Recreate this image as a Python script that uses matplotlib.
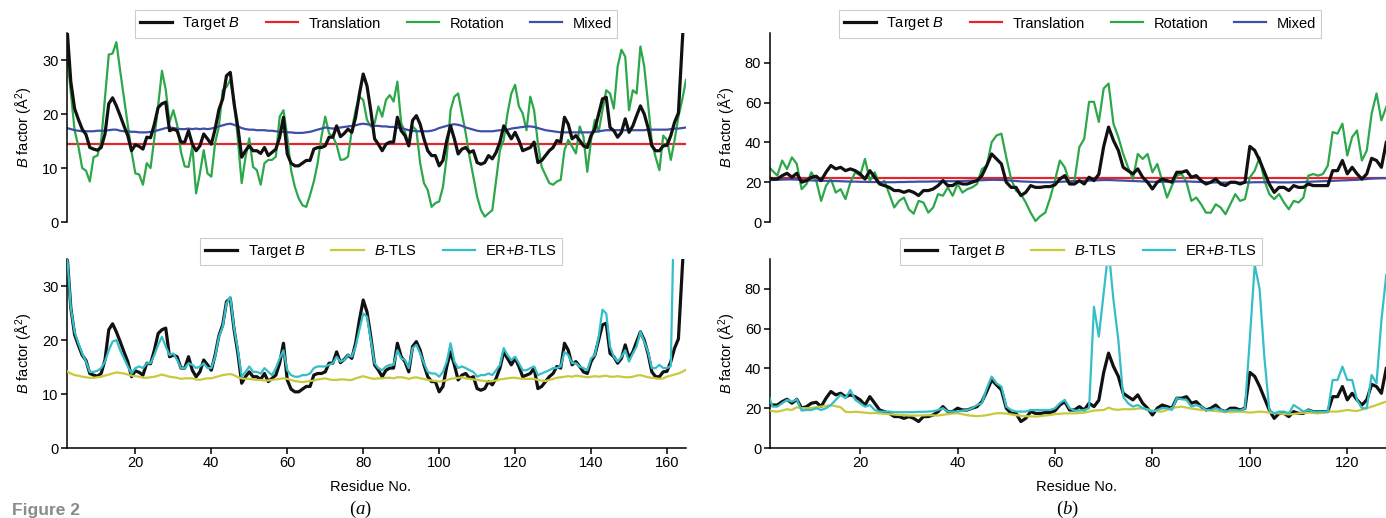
import matplotlib.pyplot as plt
from matplotlib.lines import Line2D
import numpy as np

plt.rcParams['font.family'] = 'Liberation Sans'
plt.rcParams['mathtext.fontset'] = 'custom'
plt.rcParams['mathtext.it'] = 'Liberation Sans:italic'
plt.rcParams['mathtext.rm'] = 'Liberation Sans'
plt.rcParams['font.size'] = 10

# ---- panel (a): residues 2..165 ----
res_a = np.arange(2, 166)
target_a = [36, 26, 21, 19, 17.2, 16.2, 13.8, 13.5, 13.3, 13.8, 16.3, 21.9, 23, 21.5, 19.7, 17.8, 16, 13.2, 14.3,
            14, 13.5, 15.7, 15.6, 18.1, 21.2, 21.9, 22.2, 16.9, 17.2, 16.9, 14.8, 14.8, 16.9, 14.4, 13.2, 14.1,
            16.3, 15.4, 14.4, 17.2, 20.8, 22.8, 27.1, 27.7, 21.9, 17.5, 12, 13.2, 14.1, 13.2, 13.2, 12.7, 13.8,
            12.3, 12.9, 13.5, 15.7, 19.4, 12.6, 10.9, 10.4, 10.4, 10.9, 11.4, 11.4, 13.5, 13.8, 13.8, 14.1, 15.7,
            15.7, 17.8, 15.8, 16.4, 17.2, 16.6, 19.4, 23.7, 27.4, 25.2, 20.6, 15.4, 14.4, 13.2, 14.4, 14.8, 14.8,
            19.4, 16.9, 16, 14.1, 18.8, 19.7, 18.1, 15.4, 13.2, 12.3, 12.3, 10.4, 11.4, 15.1, 17.8, 15.4, 12.6,
            13.5, 13.8, 12.9, 13.2, 11, 10.7, 11, 12.3, 11.7, 12.9, 14.8, 17.8, 16.6, 15.4, 16.6, 15.1, 13.2,
            13.5, 13.8, 14.8, 11, 11.4, 12.3, 13.2, 13.8, 15.1, 14.8, 19.4, 18.1, 15.4, 16, 15.1, 14.1, 13.8, 16,
            17.2, 20, 22.8, 23.1, 17.5, 16.9, 15.7, 16.6, 19.1, 16.6, 17.8, 19.7, 21.5, 20, 17.5, 14.1, 13.2,
            13.2, 14.1, 14.2, 16, 18.5, 20.2, 33, 45]
translation_a = 14.4
rotation_a = [31, 24, 17, 14, 10, 9.5, 7.5, 12, 12.3, 15, 23, 31, 31.2, 33.3, 28, 23, 18, 13, 9, 8.8, 6.9, 10.9,
              10, 15.5, 21.5, 28, 24.5, 18.5, 20.7, 18, 13, 10.3, 10.2, 14, 5.3, 9, 13.3, 9, 8.4, 14.6, 17.7,
              24.4, 25, 26.3, 22.6, 15.2, 7.2, 12, 15.5, 10.2, 9.6, 6.9, 10.9, 11.5, 11.5, 12.1, 19.5, 20.7,
              15.8, 9.6, 6.5, 4.4, 3.1, 2.8, 5, 7.5, 10.9, 15.8, 19.5, 16.4, 15.8, 14.3, 11.5, 11.6, 12.1, 17,
              20.7, 23.2, 22.6, 18.9, 17.7, 18.3, 21.4, 19.5, 22.6, 23.5, 22.3, 26, 18.3, 16.7, 14.3, 17.7, 17,
              10.9, 7.2, 5.9, 2.8, 3.5, 3.8, 6.5, 12.1, 20.7, 23.2, 23.8, 20.1, 16.4, 12.1, 8.4, 4.7, 2.2, 1,
              1.6, 2.2, 7.8, 13.3, 15.2, 20.1, 23.8, 25.4, 21.4, 20.1, 17, 23.2, 20.7, 14.6, 10.2, 8.7, 7.2,
              6.9, 7.5, 7.8, 13.3, 15.2, 14, 12.7, 17.7, 15.8, 9.3, 15.2, 18.9, 16.7, 20.7, 24.4, 23.8, 21,
              28.8, 31.9, 30.6, 20.7, 24.4, 23.8, 32.5, 28.8, 22, 14.8, 12, 9.6, 16, 15.2, 11.5, 15.2, 19.5,
              22.6, 26.3]
mixed_a = [17.4, 17.2, 17.0, 16.9, 16.8, 16.8, 16.8, 16.8, 16.9, 16.9, 16.9, 17.0, 17.1, 17.1, 16.9, 16.8, 16.8,
           16.7, 16.7, 16.6, 16.6, 16.6, 16.7, 16.8, 17.0, 17.2, 17.4, 17.5, 17.4, 17.3, 17.2, 17.2, 17.3, 17.2,
           17.3, 17.2, 17.3, 17.2, 17.3, 17.5, 17.7, 17.9, 18.1, 18.2, 18.0, 17.7, 17.4, 17.2, 17.1, 17.1, 17.0,
           17.0, 17.0, 16.9, 16.9, 16.8, 16.7, 16.7, 16.6, 16.6, 16.5, 16.5, 16.5, 16.6, 16.7, 16.9, 17.1, 17.3,
           17.5, 17.4, 17.3, 17.4, 17.5, 17.6, 17.7, 17.8, 17.9, 18.1, 18.2, 18.1, 18.0, 17.8, 17.8, 17.7, 17.7,
           17.6, 17.6, 17.5, 17.4, 17.2, 17.0, 16.9, 16.8, 16.8, 16.8, 16.8, 16.9, 17.1, 17.4, 17.6, 17.8, 18.0,
           18.1, 18.0, 17.8, 17.5, 17.3, 17.1, 16.9, 16.8, 16.8, 16.8, 16.8, 16.9, 17.0, 16.9, 17.1, 17.3, 17.4,
           17.5, 17.6, 17.7, 17.7, 17.6, 17.4, 17.2, 17.0, 16.9, 16.8, 16.7, 16.6, 16.6, 16.6, 16.6, 16.6, 16.6,
           16.6, 16.6, 16.6, 16.7, 16.8, 16.9, 17.0, 17.0, 17.0, 17.0, 17.0, 17.0, 17.0, 17.0, 17.0, 17.0, 17.0,
           17.1, 17.1, 17.1, 17.1, 17.1, 17.1, 17.2, 17.3, 17.3, 17.4, 17.5]
btls_a = [14.2, 13.8, 13.5, 13.4, 13.2, 13.1, 13.0, 13.0, 13.1, 13.2, 13.4, 13.6, 13.8, 14.0, 13.9, 13.8, 13.6,
          13.4, 13.3, 13.2, 13.0, 13.0, 13.1, 13.2, 13.4, 13.6, 13.4, 13.2, 13.1, 13.0, 12.8, 12.9, 12.9, 12.9,
          12.7, 12.6, 12.8, 12.9, 12.9, 13.1, 13.3, 13.5, 13.6, 13.7, 13.5, 13.1, 12.9, 12.8, 12.8, 12.7, 12.6,
          12.6, 12.5, 12.5, 12.6, 12.7, 12.8, 12.9, 12.8, 12.6, 12.4, 12.3, 12.2, 12.3, 12.4, 12.5, 12.7, 12.8,
          12.9, 12.7, 12.6, 12.6, 12.7, 12.7, 12.6, 12.6, 12.9, 13.1, 13.3, 13.1, 12.9, 12.8, 12.9, 12.9, 13.0,
          13.0, 12.9, 13.1, 13.1, 13.0, 12.8, 13.0, 13.1, 12.9, 12.8, 12.6, 12.5, 12.4, 12.3, 12.4, 12.6, 12.8,
          12.9, 13.0, 13.1, 12.9, 12.8, 12.7, 12.6, 12.5, 12.4, 12.3, 12.4, 12.5, 12.7, 12.8, 12.9, 13.0, 13.0,
          12.9, 12.8, 12.8, 12.8, 12.8, 12.6, 12.5, 12.4, 12.6, 12.8, 13.0, 13.1, 13.2, 13.3, 13.2, 13.4, 13.3,
          13.2, 13.1, 13.2, 13.3, 13.2, 13.3, 13.4, 13.2, 13.2, 13.3, 13.2, 13.1, 13.1, 13.2, 13.4, 13.5, 13.3,
          13.1, 13.0, 12.9, 12.8, 12.9, 13.2, 13.4, 13.6, 13.8, 14.1, 14.5]
er_btls_a = [36, 26, 21.5, 19.4, 17.5, 16, 14.1, 14.1, 14.3, 14.8, 16, 18.1, 19.7, 20, 18.1, 16.6, 15.1, 13.8,
             14.8, 15.1, 14.8, 15.7, 15.7, 17.2, 19.1, 20.6, 18.8, 17.2, 17.5, 16.3, 14.8, 14.8, 15.7, 15.4,
             14.8, 15.1, 15.7, 14.8, 14.8, 16.9, 20.6, 22.5, 26.8, 28, 22.2, 18.1, 13.2, 14.1, 15.1, 14.1, 14.1,
             13.8, 14.8, 14.1, 13.5, 14.8, 16.6, 18.1, 14.4, 13.5, 13.2, 13.2, 13.5, 13.5, 13.8, 14.8, 15.1,
             15.1, 15.1, 15.4, 15.7, 16.9, 16, 16.3, 17.2, 16.9, 18.8, 21.9, 24.9, 24.3, 20, 15.7, 14.8, 14.4,
             15.1, 15.4, 15.4, 18.1, 16.6, 16.3, 14.8, 18.5, 19.1, 17.5, 15.7, 14.1, 13.8, 13.8, 13.2, 14.1, 16,
             19.4, 16, 14.8, 15.1, 14.8, 14.4, 14.1, 13.2, 13.5, 13.5, 13.8, 13.5, 14.4, 15.4, 18.5, 17.2, 16.3,
             16.9, 15.7, 14.4, 14.4, 14.8, 15.1, 13.5, 13.8, 14.1, 14.4, 14.8, 14.8, 15.1, 17.8, 17.2, 15.7,
             15.7, 15.1, 14.8, 14.4, 16.6, 17.2, 20.6, 25.6, 24.9, 18.8, 16.9, 16, 16.9, 18.1, 16, 17.5, 18.8,
             21.5, 19.7, 17.8, 14.8, 14.8, 15.4, 14.8, 14.8, 15.2, 50, 60, 70, 75]

# ---- panel (b): residues 1..128 ----
res_b = np.arange(1, 129)
target_b = [22.5, 21.6, 21.6, 23.3, 24.5, 22.5, 24.5, 20, 20.8, 22.5, 23, 20.8, 25, 28.4, 26.7, 27.5, 25.8, 26.7,
            25.8, 24.2, 21.6, 25.8, 22.5, 19.1, 18.3, 17.4, 15.8, 15.8, 14.9, 15.8, 14.9, 13.3, 15.8, 15.8, 16.6,
            18.3, 20.8, 18.3, 18.3, 20, 19.1, 19.1, 20, 20.8, 23.3, 28.4, 34.2, 31.7, 29.2, 20, 17.4, 17.4, 13.3,
            14.9, 18.3, 17.4, 17.4, 17.8, 17.8, 18.7, 21.6, 23.3, 19.1, 19.1, 20.8, 19.1, 22.5, 20.8, 24, 38,
            47.7, 41, 36, 27.5, 25.8, 24.2, 26.7, 22.5, 20, 16.6, 20, 21.6, 20.8, 20, 25, 25, 25.8, 22.5, 23.3,
            20.8, 19.1, 20, 21.6, 19.1, 18.3, 20, 20, 19.1, 20, 38, 36, 31, 25, 19, 14.9, 17.4, 17.4, 15.8, 18.3,
            17.4, 17.4, 19.1, 18.3, 18.3, 18.3, 18.3, 25.8, 25.8, 30.9, 24.2, 27.5, 24.2, 21.6, 24.2, 32, 30.9,
            27.5, 40]
translation_b = 22.0
rotation_b = [28.3, 25.8, 23.3, 30.9, 26.6, 32.5, 29.2, 16.5, 19.1, 25, 20.7, 10.6, 18.2, 21.6, 14.8, 16.5, 11.5,
              19.9, 25, 23.3, 31.7, 20.7, 25, 19.1, 20.7, 14, 7.3, 10.6, 12.3, 6.4, 4.2, 10.6, 9.8, 4.7, 7.3, 14,
              13.2, 17.4, 13.2, 19.1, 14.8, 16.5, 17.4, 19.1, 26.6, 28.3, 40.1, 43.5, 44.4, 32.5, 21.6, 15.7, 14,
              9.8, 4.7, 0.5, 3, 4.7, 12, 21, 30.9, 27.5, 19.9, 20.7, 37.6, 41.8, 60.4, 60.4, 50.3, 67.1, 69.6,
              49.4, 42.7, 34.2, 27.5, 21.6, 34.2, 31.7, 34.2, 25, 29.2, 20.7, 12.3, 18.2, 23.3, 24.1, 19.9, 10.6,
              12.3, 8.9, 4.7, 4.7, 8.9, 7.3, 3.9, 8.9, 14, 10.6, 11.5, 22.4, 25.8, 32.5, 20.7, 14, 11.5, 14, 9.8,
              6.4, 10.6, 9.8, 12.3, 23.3, 24.1, 23.3, 24.1, 28.3, 45.2, 44.4, 49.4, 33.4, 42.7, 46, 30.9, 35.9,
              54.5, 64.6, 51.1, 57.8]
mixed_b = [21.0, 21.1, 21.2, 21.3, 21.4, 21.4, 21.3, 21.1, 21.0, 20.9, 20.8, 20.7, 20.7, 20.6, 20.6, 20.5, 20.4,
           20.3, 20.3, 20.2, 20.2, 20.1, 20.1, 20.0, 20.0, 20.0, 20.0, 20.1, 20.1, 20.2, 20.2, 20.3, 20.3, 20.3,
           20.4, 20.4, 20.5, 20.5, 20.5, 20.5, 20.6, 20.7, 20.8, 20.9, 21.0, 21.1, 21.2, 21.2, 21.1, 21.0, 20.8,
           20.6, 20.4, 20.3, 20.2, 20.1, 20.0, 20.0, 20.0, 20.1, 20.2, 20.3, 20.4, 20.5, 20.6, 20.7, 20.8, 20.9,
           21.0, 21.1, 21.1, 21.0, 20.9, 20.8, 20.7, 20.6, 20.5, 20.4, 20.3, 20.2, 20.2, 20.2, 20.3, 20.3, 20.4,
           20.4, 20.4, 20.3, 20.2, 20.1, 20.0, 19.9, 19.9, 19.8, 19.8, 19.8, 19.8, 19.8, 19.9, 19.9, 20.0, 20.0,
           20.0, 20.0, 20.0, 19.9, 19.9, 19.9, 20.0, 20.0, 20.1, 20.2, 20.3, 20.4, 20.5, 20.6, 20.7, 20.8, 20.9,
           21.0, 21.1, 21.2, 21.4, 21.6, 21.8, 21.9, 22.0, 22.0]
btls_b = [19.1, 18.5, 18.3, 18.8, 19.5, 19.1, 20.5, 20, 20, 20.2, 20.5, 20.8, 21.2, 21.5, 21, 20.5, 18.2, 18,
          18.2, 18, 17.8, 17.5, 17.6, 17.4, 17.2, 17, 16.8, 16.6, 16.5, 16.3, 16.3, 16.3, 16.4, 16.5, 16.4, 16.3,
          16.7, 17, 17.3, 17.5, 17, 16.5, 16.2, 16, 16.2, 16.5, 17, 17.5, 17.5, 17.3, 16.9, 16.5, 16.2, 16, 15.9,
          15.8, 16, 16.3, 16.6, 17, 17.2, 17.4, 17.4, 17.4, 17.6, 17.8, 18.3, 18.8, 19, 19.1, 20.3, 19.4, 19.2,
          19.5, 19.5, 19.5, 19.8, 20, 19.4, 18.8, 18.5, 18.3, 19.2, 20, 20.5, 20.8, 20.3, 19.8, 19.5, 19.1, 19,
          18.8, 18.6, 18.3, 18.2, 18, 18.2, 18.3, 18.1, 17.8, 18, 18.3, 18.1, 17.8, 17.6, 17.4, 17.1, 16.9, 17.1,
          17.4, 17.6, 17.8, 17.6, 17.4, 17.8, 18.3, 18.3, 18.3, 18.7, 19.1, 18.8, 18.6, 19.3, 20, 20.8, 21.6,
          22.5, 23.3]
er_btls_b = [28.4, 20.8, 20.8, 22.5, 24.2, 23.3, 24.5, 18.8, 19.1, 19.1, 20, 19.1, 20, 21.6, 24.2, 26.7, 25, 29.2,
             24.2, 22.5, 20.8, 21.6, 19.1, 18.3, 18.3, 18.3, 18, 18, 18, 18, 18, 18.2, 18.2, 18.3, 18.5, 19.1, 20,
             18.3, 18.3, 18.3, 18.8, 19.1, 20, 21.6, 22.5, 30, 35.9, 32.5, 30.9, 20.8, 19.1, 18.3, 18.3, 18.3,
             19.1, 19.1, 19.1, 19.1, 19.1, 20, 22.5, 24.2, 20, 18.8, 18.8, 19.1, 20, 71, 56, 78, 100, 74.5, 54.4,
             25.8, 22.5, 20.8, 21.6, 20, 19.1, 18.3, 19.1, 20, 20, 19.1, 25, 24.5, 24.2, 20.8, 21.6, 20.8, 19.1,
             19.1, 20, 19.1, 18.3, 19.1, 19.1, 18.8, 20, 55, 92, 80, 45, 19.1, 17.4, 18.3, 18.3, 17.4, 21.6, 20,
             18.3, 19.1, 18.3, 18.3, 18.3, 18.3, 34.2, 34.2, 40.9, 34.2, 34.2, 24.2, 20, 20, 36.7, 32.5, 64, 87]

C_BLACK = '#111111'
C_RED = '#e3262c'
C_GREEN = '#2ca84a'
C_BLUE = '#3f4fa6'
C_OLIVE = '#c8c93c'
C_CYAN = '#34bfc8'

fig = plt.figure(figsize=(13.86, 5.18), dpi=100)

W = 1386.0
H = 518.0


def make_ax(x0, x1, ytop, ybot):
    return fig.add_axes([x0 / W, 1 - ybot / H, (x1 - x0) / W, (ybot - ytop) / H])


ax_at = make_ax(67, 686, 33, 222)
ax_ab = make_ax(67, 686, 259, 448)
ax_bt = make_ax(769.5, 1396, 33, 222)
ax_bb = make_ax(769.5, 1396, 259, 448)

LW_T = 2.3
LW = 1.6

# top (a)
ax_at.plot(res_a, target_a, color=C_BLACK, lw=LW_T, zorder=3)
ax_at.plot(res_a, [translation_a] * len(res_a), color=C_RED, lw=LW, zorder=2)
ax_at.plot(res_a, rotation_a, color=C_GREEN, lw=LW, zorder=2)
ax_at.plot(res_a, mixed_a, color=C_BLUE, lw=LW, zorder=2)
# bottom (a)
ax_ab.plot(res_a, target_a, color=C_BLACK, lw=LW_T, zorder=2)
ax_ab.plot(res_a, btls_a, color=C_OLIVE, lw=LW, zorder=3)
ax_ab.plot(res_a, er_btls_a, color=C_CYAN, lw=LW, zorder=3)
# top (b)
ax_bt.plot(res_b, target_b, color=C_BLACK, lw=LW_T, zorder=3)
ax_bt.plot(res_b, [translation_b] * len(res_b), color=C_RED, lw=LW, zorder=2)
ax_bt.plot(res_b, rotation_b, color=C_GREEN, lw=LW, zorder=2)
ax_bt.plot(res_b, mixed_b, color=C_BLUE, lw=LW, zorder=2)
# bottom (b)
ax_bb.plot(res_b, target_b, color=C_BLACK, lw=LW_T, zorder=2)
ax_bb.plot(res_b, btls_b, color=C_OLIVE, lw=LW, zorder=3)
ax_bb.plot(res_b, er_btls_b, color=C_CYAN, lw=LW, zorder=3)

for ax in (ax_at, ax_ab):
    ax.set_xlim(2, 165)
    ax.set_ylim(0, 35)
    ax.set_yticks([0, 10, 20, 30])
for ax in (ax_bt, ax_bb):
    ax.set_xlim(1.4, 130)
    ax.set_ylim(0, 95)
    ax.set_yticks([0, 20, 40, 60, 80])
ax_ab.set_xticks(np.arange(20, 161, 20))
ax_bb.set_xticks(np.arange(20, 121, 20))

for ax in (ax_at, ax_ab, ax_bt, ax_bb):
    ax.spines['top'].set_visible(False)
    ax.spines['right'].set_visible(False)
    for s in ('left', 'bottom'):
        ax.spines[s].set_linewidth(1.1)
    ax.tick_params(direction='out', length=4, width=1.1, labelsize=10.5, pad=2)
    ax.set_ylabel('$B$ factor (Å$^2$)', fontsize=10.5, labelpad=5)

for ax in (ax_at, ax_bt):
    ax.spines['bottom'].set_visible(False)
    ax.set_xticks([])

leg_kw = dict(loc='center', ncol=4, frameon=True, fancybox=False, fontsize=10.5, handlelength=2.2,
              handletextpad=0.7, columnspacing=1.8, borderpad=0.35, edgecolor='#cccccc', framealpha=1)
h_top = [Line2D([], [], color=C_BLACK, lw=LW_T), Line2D([], [], color=C_RED, lw=LW),
         Line2D([], [], color=C_GREEN, lw=LW), Line2D([], [], color=C_BLUE, lw=LW)]
l_top = ['Target $B$', 'Translation', 'Rotation', 'Mixed']
h_bot = [Line2D([], [], color=C_BLACK, lw=LW_T), Line2D([], [], color=C_OLIVE, lw=LW),
         Line2D([], [], color=C_CYAN, lw=LW)]
l_bot = ['Target $B$', '$B$-TLS', 'ER+$B$-TLS']

for ax, cx in ((ax_at, 376), (ax_bt, 1080)):
    lg = ax.legend(h_top, l_top, bbox_to_anchor=(cx / W, 1 - 24 / H), bbox_transform=fig.transFigure, **leg_kw)
    lg.get_frame().set_linewidth(0.8)
for ax, cx in ((ax_ab, 381), (ax_bb, 1081)):
    lg = ax.legend(h_bot, l_bot, bbox_to_anchor=(cx / W, 1 - 251.5 / H), bbox_transform=fig.transFigure, **leg_kw)
    lg.get_frame().set_linewidth(0.8)

# x labels and panel letters "(a)", "(b)" with italic letter
serif = dict(fontsize=13.5, family='Liberation Serif')
for cx, px, letter in ((371, 355, 'a'), (1076, 1062, 'b')):
    fig.text(cx / W, 1 - 487 / H, 'Residue No.', ha='center', va='center', fontsize=10.5)
    t1 = fig.text(px / W, 1 - 509 / H, '(', ha='right', va='center', **serif)
    t2 = fig.add_artist(plt.Annotation(letter, xy=(1, 0), xycoords=t1, va='bottom', ha='left',
                                       style='italic', **serif))
    fig.add_artist(plt.Annotation(')', xy=(1, 0), xycoords=t2, va='bottom', ha='left', **serif))

# caption label, kept fully inside the figure
fig.text(12 / W, 1 - 515 / H, 'Figure 2', ha='left', va='baseline', fontsize=12.5, color='#8a8a8a',
         fontweight='bold')

fig.savefig('out.png', dpi=100)
